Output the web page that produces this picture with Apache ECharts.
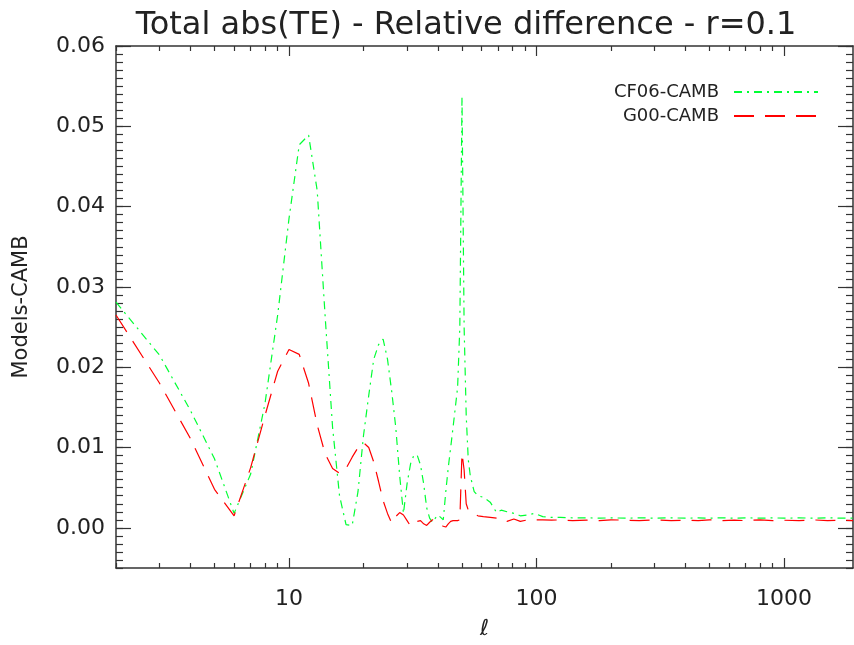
<!DOCTYPE html>
<html>
<head>
<meta charset="utf-8">
<script src="https://cdn.jsdelivr.net/npm/echarts@6/dist/echarts.min.js"></script>
<style>
  html, body { margin: 0; padding: 0; background: #fff; }
  #chart { width: 854px; height: 645px; }
</style>
</head>
<body>
<div id="chart"></div>
<script>
// multipole values (x)
const ell = [2,3,4,5,6,7,8,9,10,11,12,13,14,15,16,17,18,19,20,21,22,23,24,25,26,27,28,29,30,
  31,32,33,34,35,36,37,38,39,40,41,42,43,44,45,46,47,48,49,50,51,52,53,54,
  56,58,61,65,69,72,76,81,86,92,98,106,115,125,140,160,180,200,230,260,300,350,400,450,
  500,560,630,700,800,900,1000,1150,1300,1500,1700,1900]

// CF06-CAMB relative difference
const cf06 = [0.0281,0.0215,0.0146,0.0086,0.0018,0.0067,0.0155,0.0265,0.0385,0.0477,0.0489,0.0420,0.0263,
  0.0125,0.0040,0.0004,0.0003,0.0045,0.0115,0.0165,0.0210,0.0228,0.0235,0.0210,0.0170,0.0125,0.0065,0.0018,0.0055,
  0.0080,0.0091,0.0090,0.0078,0.0055,0.0025,0.0012,0.0007,0.0012,0.0016,0.0013,0.0010,0.0045,0.0075,0.0100,0.0125,
  0.0150,0.0175,0.0250,0.0537,0.0250,0.0140,0.0085,0.0065,
  0.0045,0.0040,0.0038,0.0032,0.0019,0.0022,0.0020,0.0018,0.0015,0.0016,0.0018,0.0014,0.0013,0.0013,0.00125,0.00125,
  0.0012,0.00125,0.0012,0.00125,0.0012,0.00125,0.0012,0.00125,0.0012,0.00125,0.0012,0.00125,0.0012,0.00125,0.0012,
  0.00125,0.0012,0.00125,0.0012,0.0012]

// G00-CAMB relative difference
const g00 = [0.0265,0.0180,0.0111,0.0048,0.0015,0.0075,0.0140,0.0195,0.0222,0.0216,0.0180,0.0128,0.0092,
  0.0074,0.0068,0.0074,0.0088,0.0100,0.0106,0.0100,0.0082,0.0058,0.0034,0.0018,0.0006,0.0014,0.0019,0.0016,0.0009,
  0.0002,0.0004,0.0008,0.0009,0.0005,0.0003,0.0007,0.0010,0.0009,0.0007,0.0004,0.0002,0.0001,0.0005,0.0008,0.0009,
  0.0009,0.0009,0.0010,0.0093,0.0072,0.0030,0.0022,0.0019,
  0.0017,0.0015,0.0014,0.0013,0.0012,0.0012,0.0008,0.0011,0.0008,0.0010,0.0010,0.0010,0.00095,0.0010,0.0009,0.00095,
  0.0009,0.0010,0.00095,0.0009,0.0010,0.0009,0.00095,0.0009,0.0010,0.0009,0.00095,0.0009,0.0010,0.0009,0.00095,
  0.0009,0.0010,0.0009,0.00095,0.0009]

// tick values
const xMajor = [10, 100, 1000]
const xMinor = [2,3,4,5,6,7,8,9,20,30,40,50,60,70,80,90,200,300,400,500,600,700,800,900]
const yMajor = [0, 0.01, 0.02, 0.03, 0.04, 0.05, 0.06]

const FONT = 'DejaVu Sans'
const AX = '#333'
const GREEN = '#00ff33'
const RED = '#ff0000'

const chart = echarts.init(document.getElementById('chart'))

const logAxis = (pos, major, showLine) => ({
  type: 'log', logBase: 10, min: 2, max: 1900, position: pos,
  axisLine: { show: showLine, onZero: false, lineStyle: { color: AX, width: 1.5 } },
  axisTick: { show: true, inside: true, length: major ? 10 : 5, customValues: major ? xMajor : xMinor,
    lineStyle: { color: AX, width: 1.2 } },
  axisLabel: { show: false },
  splitLine: { show: false }, minorTick: { show: false }
})

const linAxis = (pos, major, showLine) => ({
  type: 'value', min: -0.005, max: 0.06, position: pos,
  interval: major ? undefined : 0.001,
  axisLine: { show: showLine, onZero: false, lineStyle: { color: AX, width: 1.5 } },
  axisTick: major
    ? { show: true, inside: true, length: 15, customValues: yMajor, lineStyle: { color: AX, width: 1.2 } }
    : { show: true, inside: true, length: 7, lineStyle: { color: AX, width: 1.2 } },
  axisLabel: { show: false },
  splitLine: { show: false }
})

const xBottom = logAxis('bottom', true, true)
xBottom.axisLabel = { show: true, customValues: xMajor, fontFamily: FONT, fontSize: 22, color: '#222', margin: 20,
  formatter: v => String(Math.round(v)) }
xBottom.name = 'ℓ'
xBottom.nameLocation = 'middle'
xBottom.nameGap = 50
xBottom.nameTextStyle = { fontFamily: FONT, fontSize: 22, fontStyle: 'italic', color: '#222' }

const yLeft = linAxis('left', true, true)
yLeft.axisLabel = { show: true, customValues: yMajor, fontFamily: FONT, fontSize: 22, color: '#222', margin: 11,
  formatter: v => v.toFixed(2) }
yLeft.name = 'Models-CAMB'
yLeft.nameLocation = 'middle'
yLeft.nameGap = 84
yLeft.nameTextStyle = { fontFamily: FONT, fontSize: 21, color: '#222' }

const option = {
  backgroundColor: '#fff',
  animation: false,
  title: {
    text: 'Total abs(TE) - Relative difference - r=0.1',
    left: 461, top: 5, textAlign: 'center',
    textStyle: { fontFamily: FONT, fontSize: 32, fontWeight: 'normal', color: '#222' }
  },
  legend: {
    orient: 'vertical', right: 30, top: 78, align: 'right',
    itemWidth: 84, itemHeight: 14, itemGap: 6,
    itemStyle: { opacity: 0 },
    textStyle: { fontFamily: FONT, fontSize: 18, color: '#222', padding: [0, 10, 0, 0] },
    data: ['CF06-CAMB', 'G00-CAMB']
  },
  grid: { left: 116, right: 1, top: 46, bottom: 72 },
  xAxis: [xBottom, logAxis('bottom', false, false), logAxis('top', true, true), logAxis('top', false, false)],
  yAxis: [yLeft, linAxis('left', false, false), linAxis('right', true, true), linAxis('right', false, false)],
  series: [
    {
      name: 'CF06-CAMB', type: 'line', xAxisIndex: 0, yAxisIndex: 0,
      data: ell.map((l, i) => [l, cf06[i]]),
      showSymbol: false, symbol: 'none', clip: true,
      lineStyle: { color: GREEN, width: 1.2, type: [8, 5, 2, 5] },
      itemStyle: { color: GREEN }
    },
    {
      name: 'G00-CAMB', type: 'line', xAxisIndex: 0, yAxisIndex: 0,
      data: ell.map((l, i) => [l, g00[i]]),
      showSymbol: false, symbol: 'none', clip: true,
      lineStyle: { color: RED, width: 1.2, type: [20, 11] },
      itemStyle: { color: RED }
    }
  ]
}

chart.setOption(option)
</script>
</body>
</html>
